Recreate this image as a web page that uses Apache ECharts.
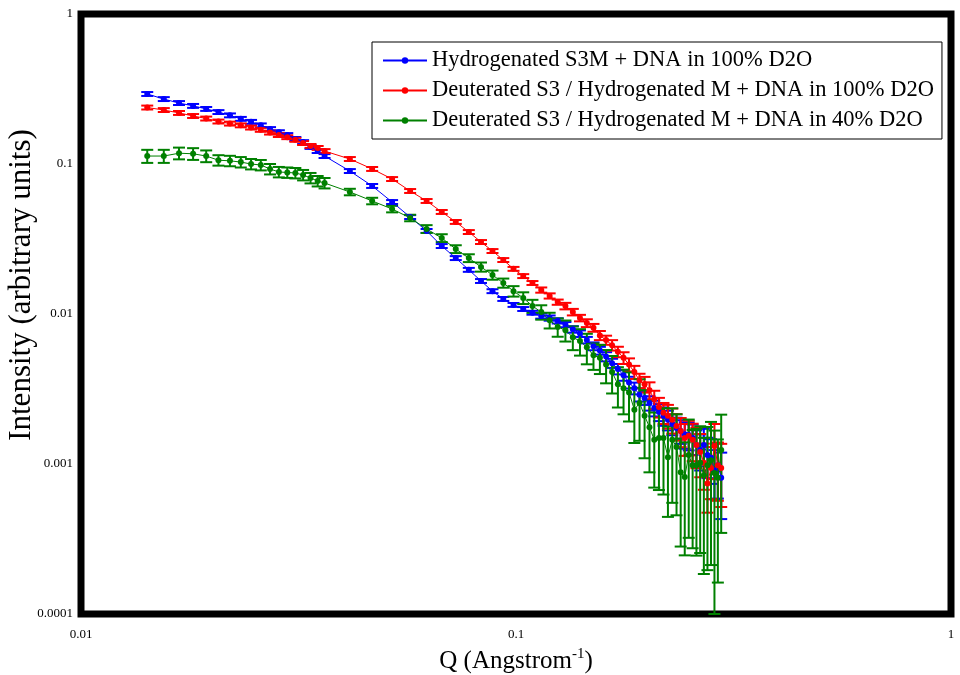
<!DOCTYPE html>
<html>
<head>
<meta charset="utf-8">
<script src="https://cdn.jsdelivr.net/npm/echarts@6/dist/echarts.min.js"></script>
<style>
html, body { margin: 0; padding: 0; background: #fff; }
#chart { width: 960px; height: 675px; }
</style>
</head>
<body>
<div id="chart"></div>
<script>
// Q values (Angstrom^-1), shared by the three curves
var qValues = [
    0.0142, 0.0155, 0.0168, 0.0181, 0.0194, 0.0207, 0.0220, 0.0233, 0.0246, 0.0259, 0.0272, 0.0285, 0.0298, 0.0311, 0.0324, 0.0337, 0.0350, 0.0363,
    0.0415, 0.0467, 0.0519, 0.0571, 0.0623, 0.0675, 0.0727, 0.0779, 0.0831, 0.0883, 0.0935, 0.0987,
    0.1039, 0.1091, 0.1143, 0.1195, 0.1247, 0.1299, 0.1351, 0.1403, 0.1455,
    0.1507, 0.1559, 0.1611, 0.1663, 0.1715, 0.1767, 0.1819, 0.1871, 0.1923, 0.1975,
    0.2027, 0.2079, 0.2131, 0.2183, 0.2235, 0.2287, 0.2339, 0.2391, 0.2443, 0.2495,
    0.2547, 0.2599, 0.2651, 0.2703, 0.2755, 0.2807, 0.2859, 0.2911, 0.2963
];

var seriesNames = [
    'Hydrogenated S3M + DNA in 100% D2O',
    'Deuterated S3 / Hydrogenated M + DNA in 100% D2O',
    'Deuterated S3 / Hydrogenated M + DNA in 40% D2O'
];

// intensities
var blueI = [
    0.293, 0.271, 0.255, 0.244, 0.233, 0.222, 0.211, 0.200, 0.191, 0.181, 0.171, 0.163, 0.156, 0.147, 0.140, 0.130, 0.122, 0.113,
    0.0898, 0.0714, 0.0558, 0.0443, 0.0358, 0.0284, 0.0236, 0.0197, 0.0166, 0.0142, 0.0126, 0.0115,
    0.0108, 0.0102, 0.0097, 0.0094, 0.0090, 0.0085, 0.0079, 0.0074, 0.0067,
    0.0061, 0.0057, 0.0052, 0.0047, 0.0043, 0.0039, 0.0035, 0.0032, 0.0029, 0.00275,
    0.00255, 0.00236, 0.00222, 0.00209, 0.00197, 0.00185, 0.00174, 0.00166, 0.00158, 0.00156,
    0.00149, 0.00134, 0.00124, 0.00134, 0.00115, 0.0011, 0.00091, 0.00098, 0.00081
];
var redI = [
    0.238, 0.229, 0.219, 0.209, 0.201, 0.192, 0.186, 0.181, 0.175, 0.169, 0.162, 0.156, 0.151, 0.145, 0.138, 0.132, 0.128, 0.122,
    0.108, 0.0927, 0.0794, 0.0661, 0.0567, 0.0479, 0.0411, 0.0352, 0.0302, 0.0263, 0.0229, 0.0200,
    0.0179, 0.0161, 0.01445, 0.0132, 0.0120, 0.0113, 0.0103, 0.0094, 0.0087,
    0.0081, 0.0072, 0.0067, 0.0062, 0.0056, 0.0051, 0.0046, 0.0041, 0.0036, 0.0034,
    0.0031, 0.0027, 0.0024, 0.0022, 0.0021, 0.00197, 0.00179, 0.00166, 0.00149, 0.00154,
    0.00145, 0.00134, 0.0012, 0.00102, 0.00074, 0.00094, 0.00132, 0.00098, 0.00094
];
var greenI = [
    0.113, 0.113, 0.118, 0.117, 0.113, 0.106, 0.105, 0.103, 0.100, 0.0985, 0.0926, 0.0885, 0.0878, 0.0871, 0.0845, 0.0807, 0.0770, 0.0747,
    0.0651, 0.0567, 0.0501, 0.0437, 0.0369, 0.0321, 0.0271, 0.0236, 0.0206, 0.0182, 0.0161, 0.0142,
    0.0128, 0.0113, 0.0103, 0.0091, 0.0082, 0.0078, 0.0070, 0.0066, 0.0060,
    0.0053, 0.0051, 0.0046, 0.0041, 0.0034, 0.0032, 0.0030, 0.0023, 0.00255, 0.0021,
    0.00176, 0.00145, 0.00149, 0.00149, 0.00111, 0.00145, 0.0013, 0.00088, 0.00082, 0.00115,
    0.00098, 0.00098, 0.00102, 0.00084, 0.00098, 0.00106, 0.00087, 0.00081, 0.00124
];

// error bar half-heights, in % of the intensity
var blueErrPct = [
    3, 3, 3, 3, 3, 3, 3, 3, 3, 3, 3, 3, 3, 3, 3, 3, 3, 3,
    3, 3, 3, 3, 3, 3, 3, 3, 3, 3, 3, 3,
    3, 3, 4, 4, 4, 4, 5, 5, 5,
    6, 6, 7, 7, 8, 8, 9, 9, 10, 10,
    11, 12, 13, 14, 15, 16, 17, 18, 20, 21,
    23, 25, 27, 28, 30, 33, 36, 40, 47
];
var redErrPct = [
    3, 3, 3, 3, 3, 3, 3, 3, 3, 3, 3, 3, 3, 3, 3, 3, 3, 3,
    3, 3, 3, 3, 3, 3, 3, 3, 3, 3, 3, 3,
    3, 3, 4, 4, 4, 5, 5, 5, 6,
    6, 7, 7, 8, 8, 9, 10, 10, 11, 12,
    13, 14, 15, 16, 18, 19, 20, 22, 24, 26,
    28, 30, 32, 34, 36, 38, 40, 42, 45
];
var greenErrPct = [
    10, 10, 9, 9, 9, 8, 8, 8, 8, 8, 8, 8, 8, 8, 8, 8, 8, 8,
    5, 5, 5, 5, 6, 6, 6, 6, 7, 7, 7, 8,
    9, 10, 11, 12, 14, 16, 18, 20, 23,
    20, 22, 25, 28, 30, 33, 36, 40, 44, 48,
    50, 52, 55, 58, 60, 62, 65, 68, 70, 72,
    72, 75, 75, 78, 80, 80, 92, 80, 72
];

var xTickLabels = ['0.01', '0.1', '1'];
var yTickLabels = ['0.0001', '0.001', '0.01', '0.1', '1'];

var colors = ['#0000ff', '#ff0000', '#008000'];
var serif = 'Liberation Serif, Times New Roman, serif';

var myChart = echarts.init(document.getElementById('chart'));

function points(vals) {
    return qValues.map(function (q, i) { return [q, vals[i]]; });
}
function bars(vals, pct) {
    return qValues.map(function (q, i) {
        var e = vals[i] * pct[i] / 100;
        return [q, Math.max(vals[i] - e, 0.0001), vals[i] + e];
    });
}

function renderErr(color) {
    return function (params, api) {
        var top = api.coord([api.value(0), api.value(2)]);
        var bot = api.coord([api.value(0), api.value(1)]);
        var w = 6;
        var style = { stroke: color, lineWidth: 2 };
        return {
            type: 'group',
            children: [
                { type: 'line', shape: { x1: top[0], y1: top[1], x2: bot[0], y2: bot[1] }, style: style },
                { type: 'line', shape: { x1: top[0] - w, y1: top[1], x2: top[0] + w, y2: top[1] }, style: style },
                { type: 'line', shape: { x1: bot[0] - w, y1: bot[1], x2: bot[0] + w, y2: bot[1] }, style: style }
            ]
        };
    };
}

var allI = [blueI, redI, greenI];
var allErr = [blueErrPct, redErrPct, greenErrPct];
var series = [];
for (var k = 0; k < 3; k++) {
    series.push({
        name: seriesNames[k] + ' err',
        type: 'custom',
        renderItem: renderErr(colors[k]),
        data: bars(allI[k], allErr[k]),
        encode: { x: 0, y: [1, 2] },
        z: 2,
        silent: true
    });
}
for (var k = 0; k < 3; k++) {
    series.push({
        name: seriesNames[k],
        type: 'line',
        data: points(allI[k]),
        symbol: 'circle',
        symbolSize: 6,
        itemStyle: { color: colors[k] },
        lineStyle: { color: colors[k], width: 1 },
        z: 3
    });
}

var option = {
    backgroundColor: '#fff',
    animation: false,
    grid: {
        left: 81,
        right: 9,
        top: 14,
        bottom: 61,
        outerBoundsMode: 'none',
        containLabel: false,
        show: true,
        borderColor: '#000',
        borderWidth: 7,
        backgroundColor: '#fff'
    },
    legend: {
        data: seriesNames,
        orient: 'vertical',
        left: 372,
        top: 42,
        padding: [7, 8, 7, 10],
        itemWidth: 44,
        itemHeight: 8,
        itemGap: 7,
        borderColor: '#000',
        borderWidth: 1,
        backgroundColor: '#fff',
        textStyle: { fontFamily: serif, fontSize: 22.5, lineHeight: 22, color: '#000' }
    },
    xAxis: {
        type: 'log',
        logBase: 10,
        min: 0.01,
        max: 1,
        name: '{a|Q (Angstrom}{b|-1}{a|)}',
        nameLocation: 'middle',
        nameGap: 33,
        nameMoveOverlap: false,
        nameTextStyle: {
            rich: {
                a: { fontFamily: serif, fontSize: 25, color: '#000' },
                b: { fontFamily: serif, fontSize: 15, color: '#000', padding: [0, 0, 14, 0] }
            }
        },
        axisLine: { show: false },
        axisTick: { show: false },
        splitLine: { show: false },
        axisLabel: {
            margin: 14,
            color: '#000',
            fontFamily: serif,
            fontSize: 13,
            formatter: function (v) { return xTickLabels[Math.round(Math.log10(v)) + 2]; }
        }
    },
    yAxis: {
        type: 'log',
        logBase: 10,
        min: 0.0001,
        max: 1,
        name: 'Intensity (arbitrary units)',
        nameLocation: 'middle',
        nameGap: 44,
        nameMoveOverlap: false,
        nameRotate: 90,
        nameTextStyle: { fontFamily: serif, fontSize: 31, color: '#000', padding: [0, 0, 0, 58] },
        axisLine: { show: false },
        axisTick: { show: false },
        splitLine: { show: false },
        axisLabel: {
            margin: 8,
            color: '#000',
            fontFamily: serif,
            fontSize: 13,
            formatter: function (v) { return yTickLabels[Math.round(Math.log10(v)) + 4]; }
        }
    },
    series: series
};

myChart.setOption(option);
</script>
</body>
</html>
